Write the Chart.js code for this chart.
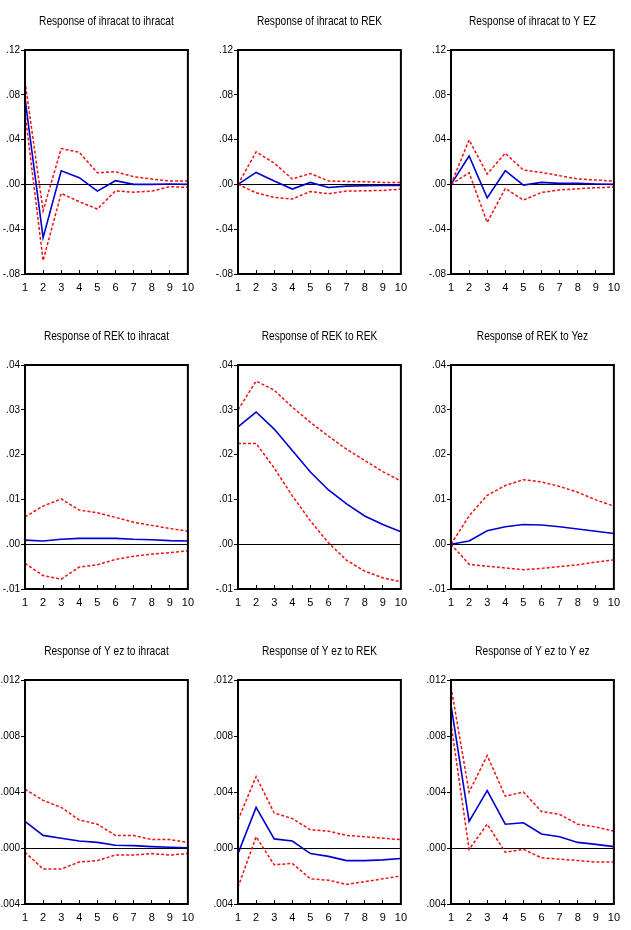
<!DOCTYPE html>
<html>
<head>
<meta charset="utf-8">
<script src="https://cdn.jsdelivr.net/npm/chart.js@4.4.1/dist/chart.umd.min.js"></script>
<style>
  body { margin: 0; background: #fff; }
  #wrap { position: relative; width: 631px; height: 930px; }
  #wrap canvas { position: absolute; }
</style>
</head>
<body>
<div id="wrap"></div>
<script>
// periods on the x axis
var periods = ['1', '2', '3', '4', '5', '6', '7', '8', '9', '10'];

// response of ihracat
var ihrIhr   = [0.077, -0.0475, 0.0122, 0.006, -0.006, 0.0033, 0.0, 0.0, 0.0003, 0.0];
var ihrIhrUp = [0.092, -0.0236, 0.032, 0.0287, 0.0104, 0.0113, 0.0069, 0.0048, 0.003, 0.003];
var ihrIhrLo = [0.064, -0.068, -0.008, -0.0155, -0.022, -0.0057, -0.007, -0.006, -0.002, -0.0027];

var ihrRek   = [0, 0.0107, 0.003, -0.0042, 0.0018, -0.0027, -0.0015, -0.0012, -0.001, -0.001];
var ihrRekUp = [0, 0.029, 0.019, 0.0048, 0.0098, 0.003, 0.0027, 0.0024, 0.0018, 0.0018];
var ihrRekLo = [0, -0.0075, -0.0116, -0.013, -0.0063, -0.0084, -0.006, -0.0057, -0.0054, -0.0042];

var ihrYez   = [0, 0.0254, -0.012, 0.0122, -0.0006, 0.0018, 0.0009, 0.0009, 0.0003, 0.0];
var ihrYezUp = [0, 0.0397, 0.0093, 0.0278, 0.0128, 0.0107, 0.0078, 0.0048, 0.0039, 0.003];
var ihrYezLo = [0, 0.0104, -0.034, -0.0036, -0.014, -0.0072, -0.005, -0.0039, -0.003, -0.0024];

// response of REK
var rekIhr   = [0.0009, 0.0007, 0.0011, 0.0013, 0.0013, 0.0013, 0.0011, 0.001, 0.0008, 0.0007];
var rekIhrUp = [0.0061, 0.0085, 0.0101, 0.0076, 0.007, 0.006, 0.0049, 0.0042, 0.0035, 0.0029];
var rekIhrLo = [-0.0043, -0.007, -0.0078, -0.0051, -0.0046, -0.0034, -0.0027, -0.0022, -0.0019, -0.0015];

var rekRek   = [0.0262, 0.0295, 0.0257, 0.0209, 0.0161, 0.0121, 0.009, 0.0063, 0.0044, 0.0028];
var rekRekUp = [0.030, 0.0364, 0.0344, 0.0306, 0.0272, 0.0241, 0.0212, 0.0187, 0.0162, 0.0141];
var rekRekLo = [0.0225, 0.0225, 0.017, 0.0108, 0.0052, 0.0003, -0.0036, -0.006, -0.0075, -0.0084];

var rekYez   = [0, 0.0007, 0.003, 0.0039, 0.0044, 0.0043, 0.0039, 0.0034, 0.0029, 0.0024];
var rekYezUp = [0, 0.0063, 0.0109, 0.0131, 0.0144, 0.0139, 0.0129, 0.0116, 0.0099, 0.0085];
var rekYezLo = [0, -0.0045, -0.0049, -0.0053, -0.0057, -0.0054, -0.005, -0.0046, -0.004, -0.0035];

// response of Y ez
var yezIhr   = [0.0019, 0.0009, 0.0007, 0.0005, 0.0004, 0.0002, 0.00017, 0.0001, 0.00005, 0.00002];
var yezIhrUp = [0.0042, 0.0034, 0.0029, 0.002, 0.0017, 0.0009, 0.0009, 0.0006, 0.0006, 0.0004];
var yezIhrLo = [-0.0003, -0.0015, -0.0015, -0.001, -0.0009, -0.0005, -0.0005, -0.0004, -0.0005, -0.0004];

var yezRek   = [-0.0004, 0.0029, 0.00065, 0.0005, -0.0004, -0.0006, -0.0009, -0.0009, -0.00085, -0.00075];
var yezRekUp = [0.002, 0.0051, 0.0025, 0.0021, 0.0013, 0.0012, 0.0009, 0.0008, 0.0007, 0.0006];
var yezRekLo = [-0.0028, 0.0008, -0.0012, -0.0011, -0.0022, -0.0023, -0.0026, -0.0024, -0.0022, -0.002];

var yezYez   = [0.0102, 0.0019, 0.0041, 0.0017, 0.0018, 0.001, 0.0008, 0.0004, 0.00026, 0.0001];
var yezYezUp = [0.0115, 0.004, 0.0066, 0.0037, 0.004, 0.0026, 0.0024, 0.0017, 0.0015, 0.0012];
var yezYezLo = [0.0089, -0.0001, 0.0017, -0.0003, -0.0001, -0.0007, -0.0008, -0.0009, -0.001, -0.001];

// y axis ranges per row: [min, max, step, decimals]
var rowAxis = [
    [-0.08, 0.12, 0.04, 2],
    [-0.01, 0.04, 0.01, 2],
    [-0.004, 0.012, 0.004, 3]
];

var sans = '"Liberation Sans", Arial, sans-serif';

// frame around the plot area + a condensed title above it
var framePlugin = {
    id: 'frame',
    afterDraw: function (chart, args, opts) {
        var a = chart.chartArea, c = chart.ctx;
        c.save();
        c.strokeStyle = '#000';
        c.lineWidth = 2;
        c.strokeRect(a.left, a.top, a.right - a.left, a.bottom - a.top);
        // title, squeezed horizontally like the narrow font of the original
        c.fillStyle = '#000';
        c.font = '13px ' + sans;
        c.textAlign = 'center';
        c.textBaseline = 'middle';
        c.translate((a.left + a.right) / 2, a.top - 29);
        c.scale(0.78, 1);
        c.fillText(opts.text, 0, 0);
        c.restore();
    }
};

function fmt(v, d) {
    if (Math.abs(v) < 1e-12) v = 0;
    var s = Math.abs(v).toFixed(d).replace(/^0/, '');
    return (v < 0 ? '-' : '') + s;
}

function drawPanel(col, row, title, resp, up, lo) {
    var ax = rowAxis[row];
    var canvas = document.createElement('canvas');
    canvas.width = 205;
    canvas.height = 300;
    canvas.style.left = (col * 213) + 'px';
    canvas.style.top = (row * 315) + 'px';
    document.getElementById('wrap').appendChild(canvas);

    var band = function (data) {
        return {
            data: data, borderColor: '#f01010', borderWidth: 1.5, borderDash: [3, 2],
            pointRadius: 0, tension: 0, fill: false
        };
    };

    new Chart(canvas.getContext('2d'), {
        type: 'line',
        data: {
            labels: periods,
            datasets: [
                band(up),
                band(lo),
                { data: resp, borderColor: '#0000d0', borderWidth: 1.6, pointRadius: 0, tension: 0, fill: false }
            ]
        },
        options: {
            responsive: false,
            animation: false,
            layout: { padding: { left: 0, right: 8, top: 50, bottom: 0 } },
            plugins: {
                legend: { display: false },
                tooltip: { enabled: false },
                title: { display: false },
                frame: { text: title }
            },
            scales: {
                x: {
                    offset: false,
                    grid: { drawOnChartArea: false, drawTicks: true, tickLength: -4, color: '#000', lineWidth: 1 },
                    border: { display: false },
                    ticks: { color: '#000', font: { family: sans, size: 11 }, padding: 11, maxRotation: 0, autoSkip: false },
                    afterFit: function (s) { s.height = 26; }
                },
                y: {
                    min: ax[0], max: ax[1],
                    grid: {
                        drawTicks: true, tickLength: 4, tickColor: '#000', lineWidth: 1,
                        color: function (ctx) {
                            return ctx.tick && Math.abs(ctx.tick.value) < 1e-12 ? '#000' : 'rgba(0,0,0,0)';
                        }
                    },
                    border: { display: false },
                    ticks: {
                        stepSize: ax[2], color: '#000', padding: 1,
                        font: { family: sans, size: 10 },
                        callback: function (v) { return fmt(v, ax[3]); }
                    },
                    afterFit: function (s) { s.width = 25; }
                }
            }
        },
        plugins: [framePlugin]
    });
}

drawPanel(0, 0, 'Response of ihracat to ihracat', ihrIhr, ihrIhrUp, ihrIhrLo);
drawPanel(1, 0, 'Response of ihracat to REK', ihrRek, ihrRekUp, ihrRekLo);
drawPanel(2, 0, 'Response of ihracat to Y EZ', ihrYez, ihrYezUp, ihrYezLo);
drawPanel(0, 1, 'Response of REK to ihracat', rekIhr, rekIhrUp, rekIhrLo);
drawPanel(1, 1, 'Response of REK to REK', rekRek, rekRekUp, rekRekLo);
drawPanel(2, 1, 'Response of REK to Yez', rekYez, rekYezUp, rekYezLo);
drawPanel(0, 2, 'Response of Y ez to ihracat', yezIhr, yezIhrUp, yezIhrLo);
drawPanel(1, 2, 'Response of Y ez to REK', yezRek, yezRekUp, yezRekLo);
drawPanel(2, 2, 'Response of Y ez to Y ez', yezYez, yezYezUp, yezYezLo);
</script>
</body>
</html>
